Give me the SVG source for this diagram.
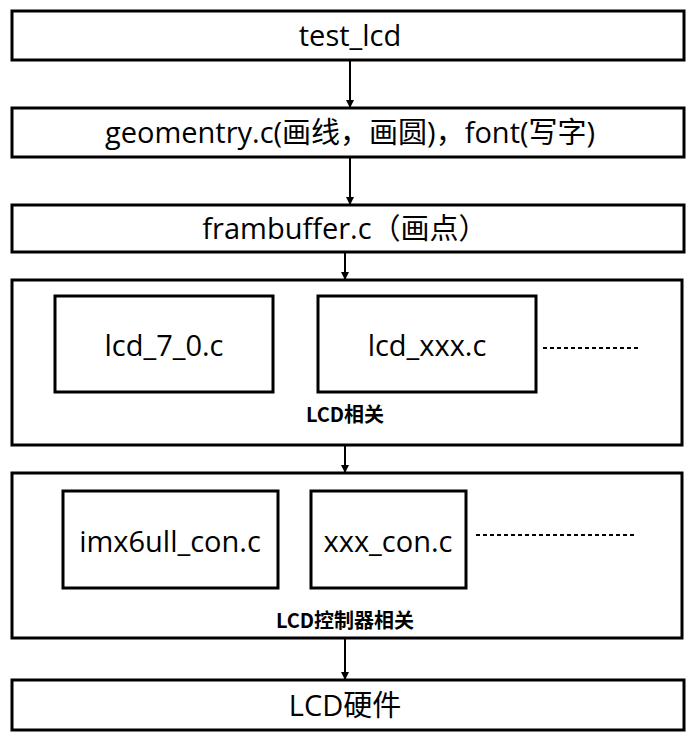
<svg xmlns="http://www.w3.org/2000/svg" width="694" height="737" viewBox="0 0 694 737">
<style>
.b{fill:#fff;stroke:#000;stroke-width:3}
.t{font-family:"Open Sans","Noto Sans CJK SC",sans-serif;font-size:29px;text-anchor:middle;dominant-baseline:central}
.s{font-family:"Noto Sans CJK SC",sans-serif;font-size:20px;font-weight:bold;text-anchor:middle;dominant-baseline:central}
.c{stroke:#000;stroke-width:2;fill:none}
.d{stroke:#000;stroke-width:2;stroke-dasharray:4,3;fill:none}
</style>
<defs><marker id="a" markerWidth="8" markerHeight="8" refX="7" refY="4" orient="auto" markerUnits="userSpaceOnUse" viewBox="0 0 8 8"><path d="M0,0L8,4L0,8z" fill="#000"/></marker></defs>
<rect width="694" height="737" fill="#fff"/>
<g id="n1"><rect class="b" x="12" y="11" width="672" height="49"/><text class="t" x="350" y="34">test_lcd</text></g>
<g id="n2"><rect class="b" x="12" y="108" width="672" height="49"/><text class="t" x="350" y="131">geomentry.c(画线，画圆)，font(写字)</text></g>
<g id="n3"><rect class="b" x="12" y="205" width="672" height="47"/><text class="t" x="345" y="227">frambuffer.c（画点）</text></g>
<g id="n4"><rect class="b" x="12" y="280" width="670" height="165"/>
<rect class="b" x="55" y="296" width="218" height="96"/><text class="t" x="164" y="344">lcd_7_0.c</text>
<rect class="b" x="318" y="296" width="218" height="96"/><text class="t" x="427" y="344">lcd_xxx.c</text>
<path class="d" d="M543,348H640"/><text class="s" x="345" y="413">LCD相关</text></g>
<g id="n5"><rect class="b" x="12" y="473" width="670" height="165"/>
<rect class="b" x="63" y="491" width="215" height="97"/><text class="t" x="170" y="540">imx6ull_con.c</text>
<rect class="b" x="311" y="491" width="155" height="97"/><text class="t" x="388" y="540">xxx_con.c</text>
<path class="d" d="M476,535H637"/><text class="s" x="345" y="619">LCD控制器相关</text></g>
<g id="n6"><rect class="b" x="12" y="680" width="672" height="50"/><text class="t" x="345" y="704">LCD硬件</text></g>
<g id="edges">
<path class="c" marker-end="url(#a)" d="M350,61V107"/>
<path class="c" marker-end="url(#a)" d="M350,158V204"/>
<path class="c" marker-end="url(#a)" d="M345,253V279"/>
<path class="c" marker-end="url(#a)" d="M345,446V472"/>
<path class="c" marker-end="url(#a)" d="M345,639V679"/>
</g>
</svg>
